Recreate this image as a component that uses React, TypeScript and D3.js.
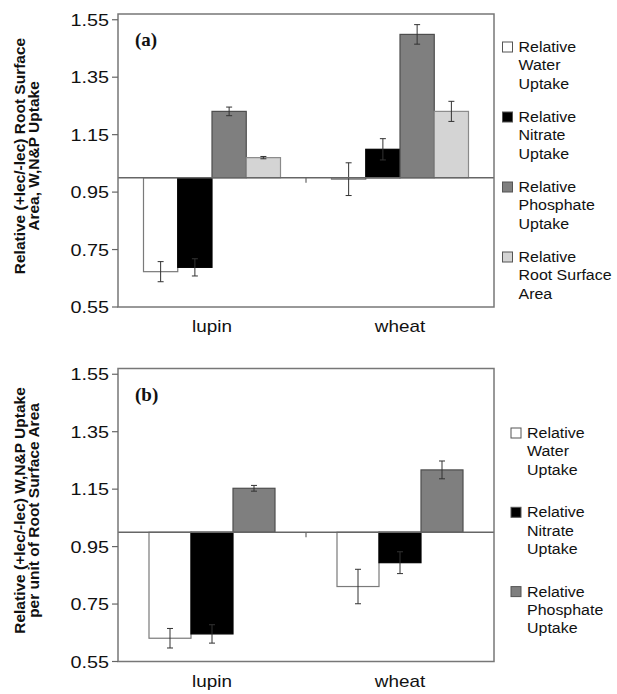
import React from 'react';
import * as d3 from 'd3';

// categories and y ticks
const categories = ['lupin', 'wheat'];
const yTicks = [0.55, 0.75, 0.95, 1.15, 1.35, 1.55];

// panel (a): relative values (+lec/-lec) and their error bars
const waterA = [0.673, 0.995];
const waterAErr = [0.035, 0.057];
const nitrateA = [0.688, 1.099];
const nitrateAErr = [0.03, 0.037];
const phosphateA = [1.231, 1.499];
const phosphateAErr = [0.015, 0.034];
const rootAreaA = [1.07, 1.231];
const rootAreaAErr = [0.004, 0.035];

// panel (b): per unit of root surface area
const waterB = [0.631, 0.811];
const waterBErr = [0.034, 0.06];
const nitrateB = [0.646, 0.894];
const nitrateBErr = [0.032, 0.038];
const phosphateB = [1.153, 1.217];
const phosphateBErr = [0.01, 0.031];

const legendWater = ['Relative', 'Water', 'Uptake'];
const legendNitrate = ['Relative', 'Nitrate', 'Uptake'];
const legendPhosphate = ['Relative', 'Phosphate', 'Uptake'];
const legendRoot = ['Relative', 'Root Surface', 'Area'];

const titleA = ['Relative (+lec/-lec) Root Surface', 'Area, W,N&P Uptake'];
const titleB = ['Relative (+lec/-lec) W,N&P Uptake', 'per unit of Root Surface Area'];

const styles = {
  water: { fill: '#ffffff', stroke: '#7a7a7a' },
  nitrate: { fill: '#000000', stroke: '#000000' },
  phosphate: { fill: '#7f7f7f', stroke: '#4d4d4d' },
  root: { fill: '#d4d4d4', stroke: '#8a8a8a' },
};

const FONT = '"Liberation Sans", Arial, sans-serif';

function T({ x, y, sx = 1, anchor = 'start', size = 16, children, weight = 'normal', family = FONT }: any) {
  return (
    <text
      transform={`translate(${x},${y}) scale(${sx},1)`}
      textAnchor={anchor}
      fontSize={size}
      fontFamily={family}
      fontWeight={weight}
      fill="#111"
    >
      {children}
    </text>
  );
}

function Panel({ top, label, title, series, pad, legendX, legendTop, legendStep }: any) {
  const left = 118;
  const right = 494;
  const y = d3.scaleLinear().domain([0.55, 1.57]).range([top + 293, top]);
  const x = d3.scaleBand().domain(categories).range([left, right]).padding(0);
  const bw = x.bandwidth();
  const xs = d3.scaleBand().domain(series.map((s: any) => s.key)).range([pad, bw - pad]).padding(0);
  const base = y(1);
  const bottom = y(0.55);

  return (
    <g>
      {/* bars */}
      {categories.map((c, i) => (
        <g key={c} transform={`translate(${x(c)},0)`}>
          {series.map((s: any) => {
            const v = s.values[i];
            const st = (styles as any)[s.key];
            return (
              <rect
                key={s.key}
                x={xs(s.key)}
                y={Math.min(y(v), base)}
                width={xs.bandwidth()}
                height={Math.abs(y(v) - base)}
                fill={st.fill}
                stroke={st.stroke}
                strokeWidth={1.2}
              />
            );
          })}
          {series.map((s: any) => {
            const v = s.values[i];
            const e = s.errs[i];
            const cx = (xs(s.key) as number) + xs.bandwidth() / 2;
            return (
              <g key={s.key + 'e'} stroke="#333" strokeWidth={1}>
                <line x1={cx} x2={cx} y1={y(v + e)} y2={y(v - e)} />
                <line x1={cx - 3} x2={cx + 3} y1={y(v + e)} y2={y(v + e)} />
                <line x1={cx - 3} x2={cx + 3} y1={y(v - e)} y2={y(v - e)} />
              </g>
            );
          })}
        </g>
      ))}

      {/* baseline at 1.0 and category ticks */}
      <line x1={left} x2={right} y1={base} y2={base} stroke="#666" strokeWidth={1.3} />
      {categories.slice(1).map((c) => (
        <line key={c} x1={x(c)} x2={x(c)} y1={base} y2={base + 5} stroke="#666" strokeWidth={1.2} />
      ))}

      {/* frame */}
      <rect x={left} y={y(1.57)} width={right - left} height={bottom - y(1.57)} fill="none" stroke="#777" strokeWidth={1.5} />

      {/* y axis */}
      {yTicks.map((t) => (
        <g key={t}>
          <line x1={left - 6} x2={left} y1={y(t)} y2={y(t)} stroke="#666" strokeWidth={1.2} />
          <T x={left - 9} y={y(t) + 6} anchor="end" sx={1.2} size={16.5}>
            {d3.format('.2f')(t)}
          </T>
        </g>
      ))}

      {/* category labels */}
      {categories.map((c) => (
        <T key={c} x={(x(c) as number) + bw / 2} y={bottom + 25} anchor="middle" sx={1.18} size={16}>
          {c}
        </T>
      ))}

      {/* panel label */}
      <T x={135} y={top + 32} size={19} weight="bold" family='"Liberation Serif", "Times New Roman", serif'>
        {label}
      </T>

      {/* y title */}
      <g transform={`translate(0,${top + 142}) rotate(-90)`}>
        {title.map((line: string, k: number) => (
          <text key={k} x={0} y={25 + k * 14} textAnchor="middle" fontSize={15.5} fontWeight="bold" fontFamily={FONT} fill="#111">
            {line}
          </text>
        ))}
      </g>

      {/* legend */}
      {series.map((s: any, k: number) => {
        const st = (styles as any)[s.key];
        const ly = legendTop + k * legendStep;
        return (
          <g key={s.key}>
            <rect x={legendX} y={ly - 10} width={10} height={10} fill={st.fill} stroke="#555" strokeWidth={1} />
            {s.legend.map((line: string, j: number) => (
              <T key={j} x={legendX + 16} y={ly + j * 18.3} size={15.5} sx={1.03}>
                {line}
              </T>
            ))}
          </g>
        );
      })}
    </g>
  );
}

export default function App() {
  const seriesA = [
    { key: 'water', values: waterA, errs: waterAErr, legend: legendWater },
    { key: 'nitrate', values: nitrateA, errs: nitrateAErr, legend: legendNitrate },
    { key: 'phosphate', values: phosphateA, errs: phosphateAErr, legend: legendPhosphate },
    { key: 'root', values: rootAreaA, errs: rootAreaAErr, legend: legendRoot },
  ];
  const seriesB = [
    { key: 'water', values: waterB, errs: waterBErr, legend: legendWater },
    { key: 'nitrate', values: nitrateB, errs: nitrateBErr, legend: legendNitrate },
    { key: 'phosphate', values: phosphateB, errs: phosphateBErr, legend: legendPhosphate },
  ];
  return (
    <svg width={617} height={694} style={{ position: 'absolute', left: 0, top: 0, background: '#fff' }}>
      <Panel top={14} label="(a)" title={titleA} series={seriesA} pad={25.5} legendX={502.5} legendTop={52} legendStep={70} />
      <Panel top={368.5} label="(b)" title={titleB} series={seriesB} pad={31} legendX={511} legendTop={438} legendStep={79.3} />
    </svg>
  );
}
